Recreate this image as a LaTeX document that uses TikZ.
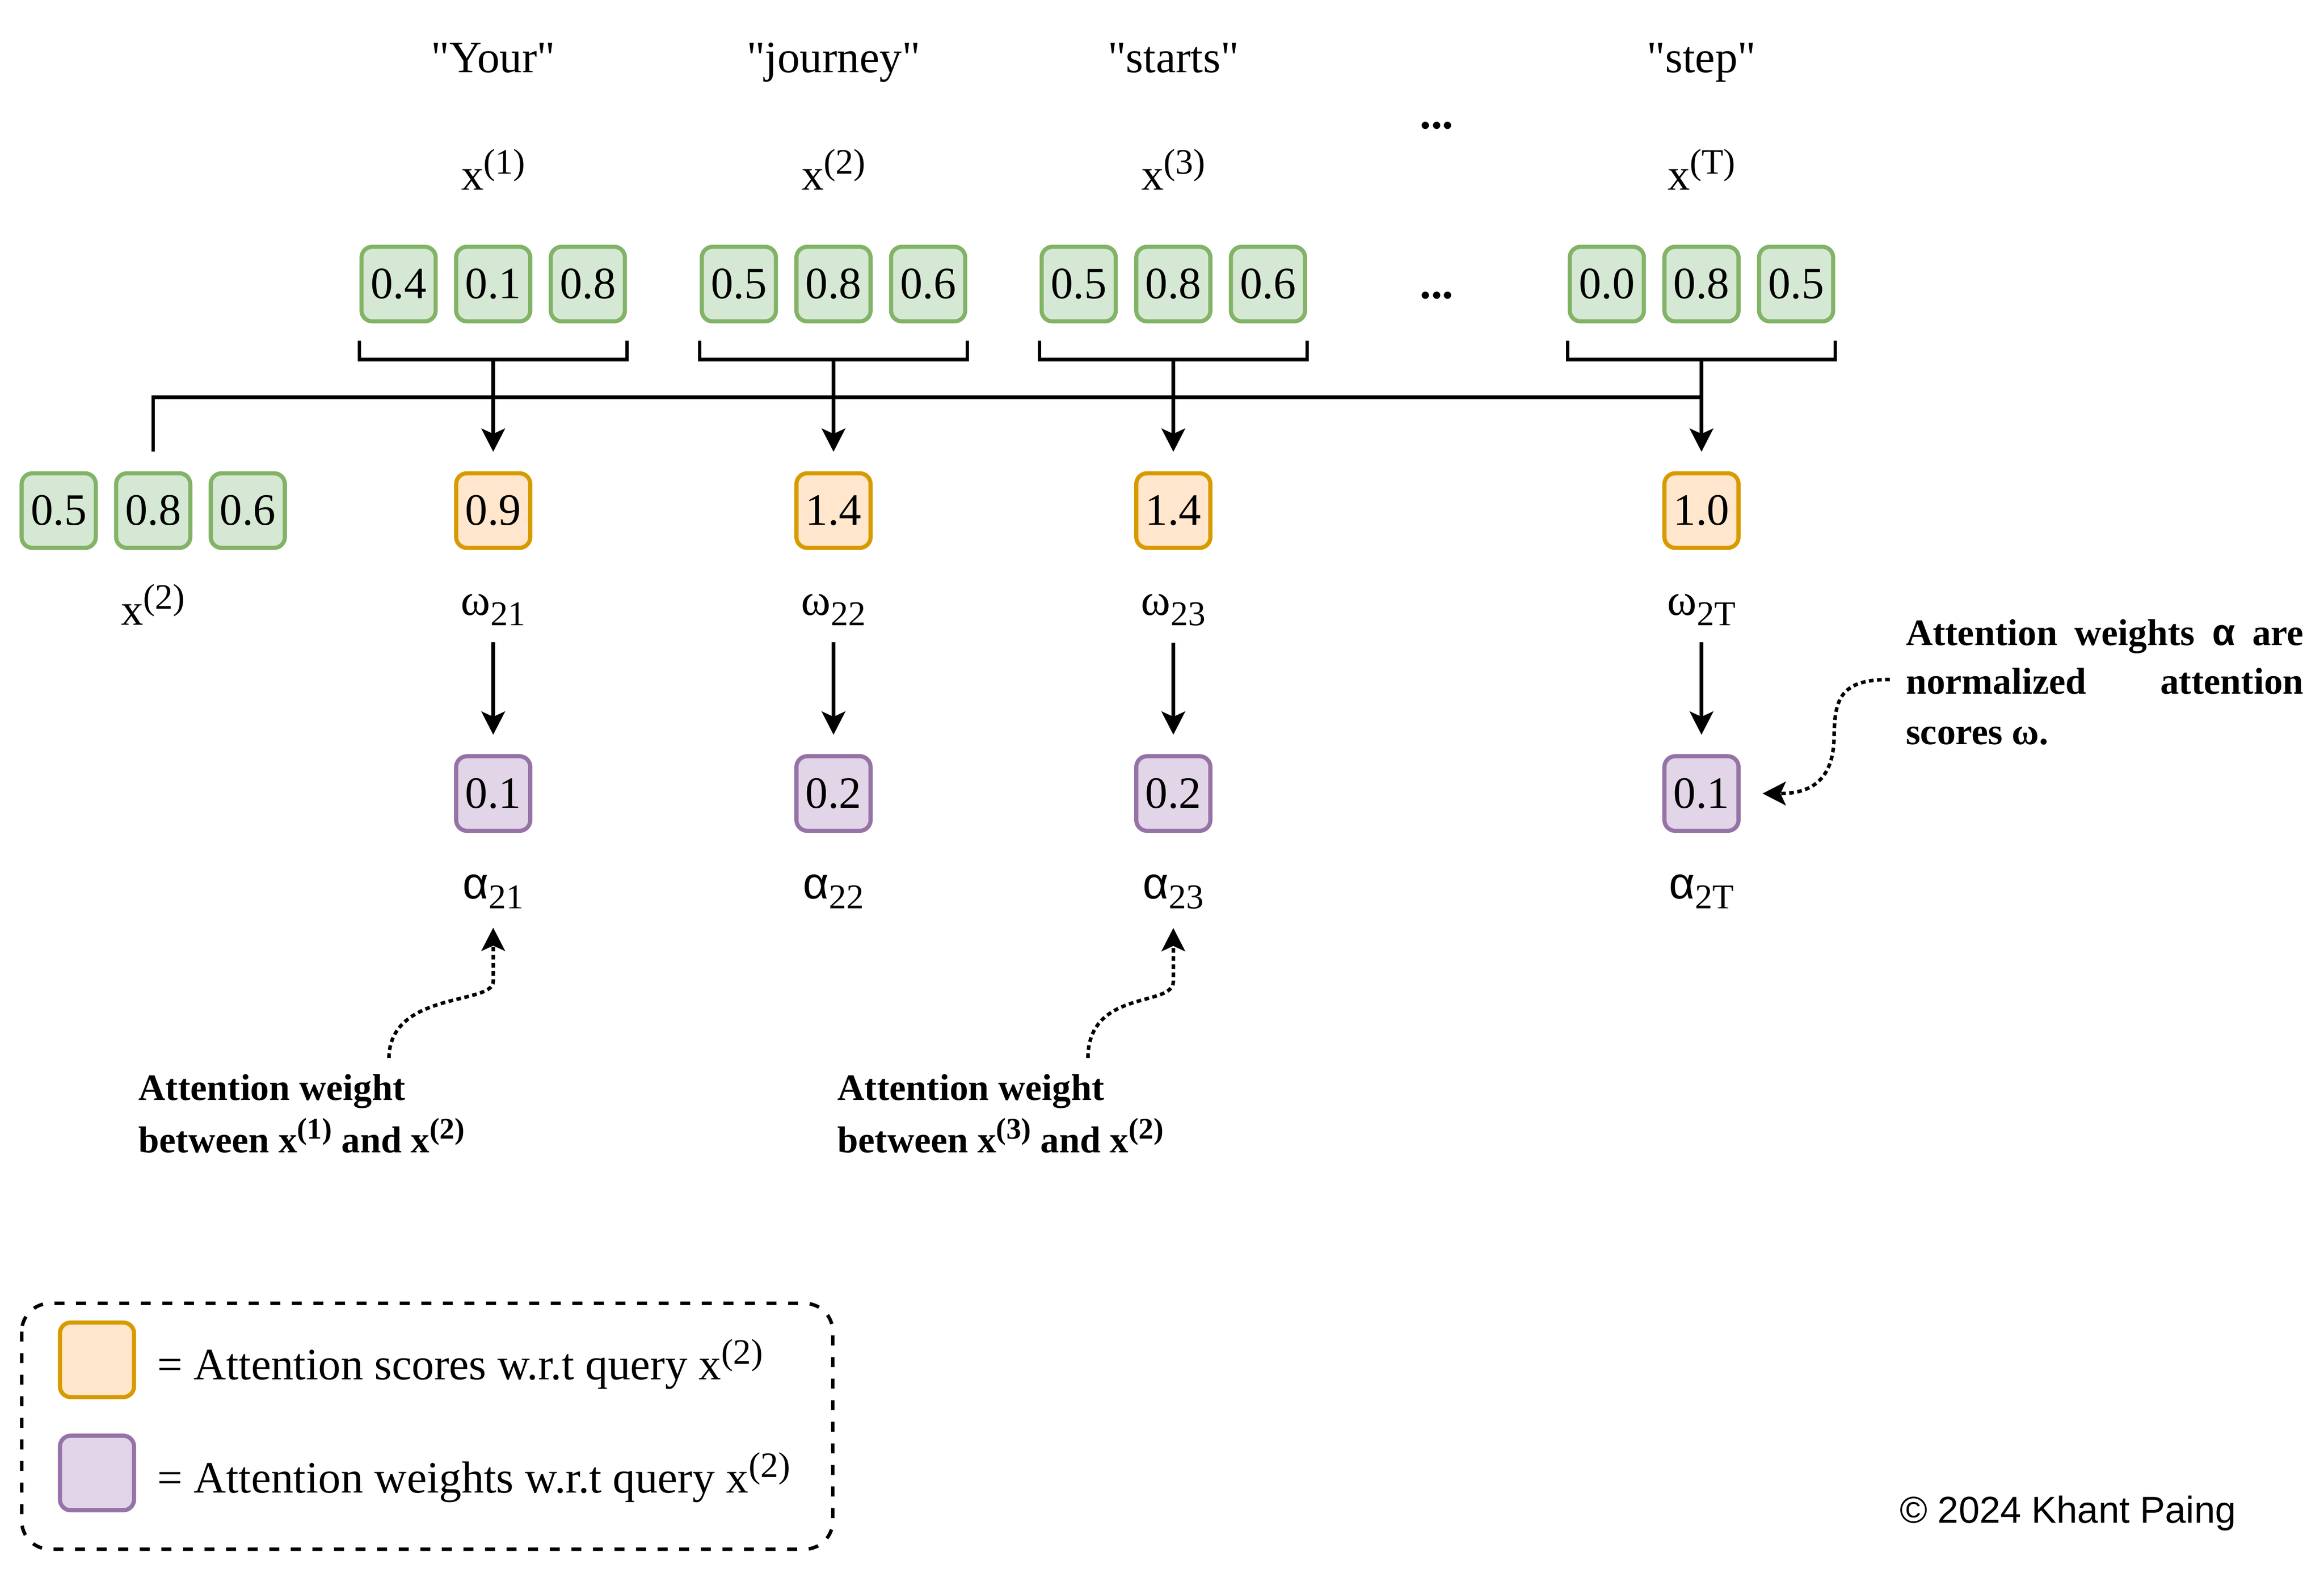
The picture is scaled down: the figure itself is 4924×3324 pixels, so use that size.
\documentclass[tikz,border=0pt]{standalone}
\usepackage{fontspec}
\setmainfont{Liberation Serif}[Ligatures=TeXOff]
\newfontfamily\sansf{Liberation Sans}
\usetikzlibrary{arrows.meta}
\definecolor{gfill}{HTML}{D5E8D4}\definecolor{gdraw}{HTML}{82B366}
\definecolor{ofill}{HTML}{FFE6CC}\definecolor{odraw}{HTML}{D79B00}
\definecolor{pfill}{HTML}{E1D5E7}\definecolor{pdraw}{HTML}{9673A6}
\newcommand{\supx}[1]{\raisebox{9.5pt}{\fontsize{21.5}{21.5}\selectfont #1}}
\newcommand{\subx}[1]{\raisebox{-6.2pt}{\fontsize{21}{21}\selectfont #1}}
\newcommand{\supb}[1]{\raisebox{8.2pt}{\fontsize{18}{18}\selectfont\bfseries #1}}
\begin{document}
\begin{tikzpicture}[x=0.01cm,y=-0.01cm,
  vbox/.style={rectangle, rounded corners=6.5pt, line width=2.5pt, minimum width=1.57cm, minimum height=1.58cm, inner sep=0pt, font=\fontsize{27}{32}\selectfont},
  gbox/.style={vbox, fill=gfill, draw=gdraw},
  obox/.style={vbox, fill=ofill, draw=odraw},
  pbox/.style={vbox, fill=pfill, draw=pdraw},
  lbl/.style={inner sep=0pt, anchor=base, font=\fontsize{27}{32}\selectfont},
  ann/.style={inner sep=0pt, anchor=base west, font=\fontsize{22.5}{27}\selectfont\bfseries},
  conn/.style={line width=2.13pt, draw=black},
  arr/.style={conn, -{Stealth[length=14pt,width=14.2pt,inset=3.2pt]}},
  dotarr/.style={arr, dash pattern=on 2.8pt off 2.1pt},
  frame/.style={line width=2.1pt, rounded corners=17pt, dash pattern=on 6pt off 7pt}
]
\useasboundingbox (0,0) rectangle (4924,3324);

% ---- words and token labels
\node[lbl] (wd1) at (1045,153.6) {"Your"};
\node[lbl] (wd2) at (1766,153.6) {"journey"};
\node[lbl] (wd3) at (2486,153.6) {"starts"};
\node[lbl] (wd4) at (3605,153.6) {"step"};
\node[lbl] (xl1) at (1045,402) {x\supx{(1)}};
\node[lbl] (xl2) at (1766,402) {x\supx{(2)}};
\node[lbl] (xl3) at (2486,402) {x\supx{(3)}};
\node[lbl] (xl4) at (3605,402) {x\supx{(T)}};
\node[lbl, font=\fontsize{27}{32}\selectfont\bfseries] (dt1) at (3044,272) {...};
\node[lbl, font=\fontsize{27}{32}\selectfont\bfseries] (dt2) at (3044,632) {...};

% ---- input embeddings
\node[gbox] (t11) at (844.5,602) {0.4};
\node[gbox] (t12) at (1045,602) {0.1};
\node[gbox] (t13) at (1245.5,602) {0.8};
\node[gbox] (t21) at (1565.5,602) {0.5};
\node[gbox] (t22) at (1766,602) {0.8};
\node[gbox] (t23) at (1966.5,602) {0.6};
\node[gbox] (t31) at (2285.5,602) {0.5};
\node[gbox] (t32) at (2486,602) {0.8};
\node[gbox] (t33) at (2686.5,602) {0.6};
\node[gbox] (t41) at (3404.5,602) {0.0};
\node[gbox] (t42) at (3605,602) {0.8};
\node[gbox] (t43) at (3805.5,602) {0.5};

% ---- brackets
\foreach \g in {1,2,3,4}{
  \draw[conn] (t\g1.west |- 0,722) -- (t\g1.west |- 0,762) -- (t\g3.east |- 0,762) -- (t\g3.east |- 0,722);
}
\coordinate (bk1) at (1045,762);
\coordinate (bk2) at (1766,762);
\coordinate (bk3) at (2486,762);
\coordinate (bk4) at (3605,762);
\coordinate (j4) at (3605,842);

% ---- query
\node[gbox] (q1) at (124.4,1082) {0.5};
\node[gbox] (q2) at (324.6,1082) {0.8};
\node[gbox] (q3) at (525,1082) {0.6};
\node[lbl] (ql) at (324,1324) {x\supx{(2)}};

% ---- attention scores
\node[obox] (s1) at (1045,1082) {0.9};
\node[obox] (s2) at (1766,1082) {1.4};
\node[obox] (s3) at (2486,1082) {1.4};
\node[obox] (s4) at (3605,1082) {1.0};

\draw[conn, shorten <=11.7pt] (q2.north) |- (j4);
\foreach \g in {1,2,3,4}{
  \draw[arr, shorten >=11.7pt] (bk\g) -- (s\g.north);
}

% ---- omega labels
\node[lbl] (w1) at (1045,1303.6) {ω\subx{21}};
\node[lbl] (w2) at (1766,1303.6) {ω\subx{22}};
\node[lbl] (w3) at (2486,1303.6) {ω\subx{23}};
\node[lbl] (w4) at (3605,1303.6) {ω\subx{2T}};

% ---- attention weights
\node[pbox] (a1) at (1045,1681.6) {0.1};
\node[pbox] (a2) at (1766,1681.6) {0.2};
\node[pbox] (a3) at (2486,1681.6) {0.2};
\node[pbox] (a4) at (3605,1681.6) {0.1};
\foreach \g in {1,2,3,4}{
  \draw[arr, shorten <=10pt, shorten >=11.7pt] (w\g.south) -- (a\g.north);
}

% ---- alpha labels
\node[lbl] (al1) at (1045,1904) {{\sansf α}\subx{21}};
\node[lbl] (al2) at (1766,1904) {{\sansf α}\subx{22}};
\node[lbl] (al3) at (2486,1904) {{\sansf α}\subx{23}};
\node[lbl] (al4) at (3605,1904) {{\sansf α}\subx{2T}};

% ---- annotations
\node[ann] (an1a) at (293,2331) {Attention weight};
\node[ann] (an1b) at (293,2442.7) {between x\supb{(1)} and x\supb{(2)}};
\node[ann] (an2a) at (1774,2331) {Attention weight};
\node[ann] (an2b) at (1774,2442.7) {between x\supb{(3)} and x\supb{(2)}};
\coordinate (as1) at (824,2242);
\coordinate (as2) at (2305,2242);
\draw[dotarr, shorten >=11.2pt] (as1) .. controls (826,2100) and (1045,2130) .. (1045,2080) -- (al1.south);
\draw[dotarr, shorten >=11.2pt] (as2) .. controls (2306,2095) and (2486,2135) .. (2486,2080) -- (al3.south);

\node[ann] (rn1) at (4037.4,1367.3) {\makebox[8.42cm][s]{Attention weights {\sansf\bfseries α} are}};
\node[ann] (rn2) at (4037.4,1470.4) {\makebox[8.42cm][s]{normalized attention}};
\node[ann] (rn3) at (4037.4,1577.5) {scores ω.};
\coordinate (rs) at (4004,1440);
\draw[dotarr, shorten >=13.2pt] (rs) .. controls (3900,1440) and (3887,1480) .. (3886,1560) .. controls (3885,1660) and (3830,1681.6) .. (a4.east);

% ---- legend
\draw[frame] (46,2762) rectangle (1764.5,3283);
\node[obox] (lg1) at (205.5,2881.7) {};
\node[pbox] (lg2) at (205.5,3121.5) {};
\node[lbl, anchor=base west] (lt1) at (333,2923.7) {= Attention scores w.r.t query x\supx{(2)}};
\node[lbl, anchor=base west] (lt2) at (333,3163.7) {= Attention weights w.r.t query x\supx{(2)}};

% ---- copyright
\node[inner sep=0pt, anchor=base west, font=\sansf\fontsize{22.6}{27}\selectfont] (cp) at (4024.6,3227) {© 2024 Khant Paing};
\end{tikzpicture}
\end{document}
